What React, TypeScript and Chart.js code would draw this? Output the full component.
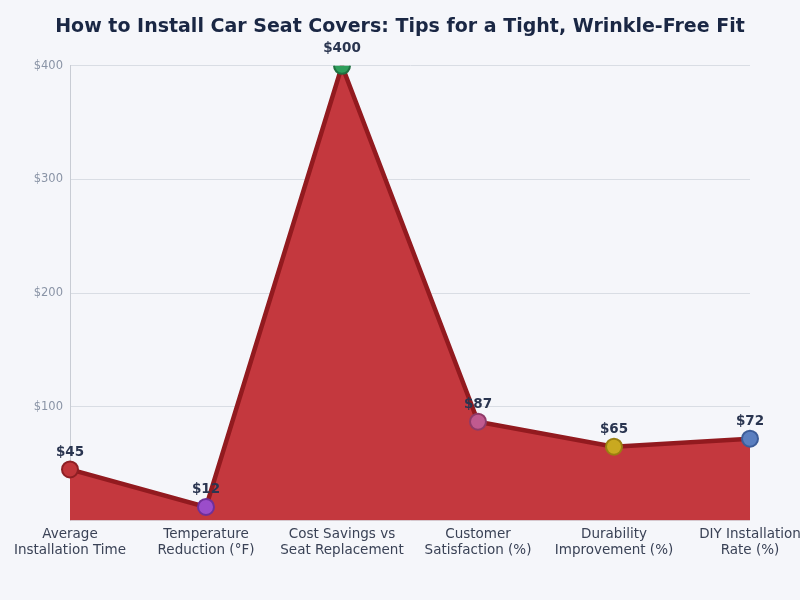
import React, { useEffect, useRef } from "react";
import { Chart, registerables } from "chart.js";

Chart.register(...registerables);

const TITLE = "How to Install Car Seat Covers: Tips for a Tight, Wrinkle-Free Fit";
const categories: string[][] = [
  ["Average", "Installation Time"],
  ["Temperature", "Reduction (°F)"],
  ["Cost Savings vs", "Seat Replacement"],
  ["Customer", "Satisfaction (%)"],
  ["Durability", "Improvement (%)"],
  ["DIY Installation", "Rate (%)"],
];
const values: number[] = [45, 12, 400, 87, 65, 72];
const pointFills: string[] = ["#c0353a", "#9b4dca", "#2e9e5b", "#c05a8f", "#c9a920", "#5b7fc0"];
const pointBorders: string[] = ["#8e1f24", "#6f2f99", "#1f7040", "#8f3a68", "#9a8010", "#3d5d99"];
const yTicks: number[] = [100, 200, 300, 400];

const BG = "#f5f6fa";

const valueLabels = {
  id: "valueLabels",
  afterDatasetsDraw(chart: any) {
    const ctx = chart.ctx;
    const meta = chart.getDatasetMeta(0);
    ctx.save();
    ctx.font = "bold 13.5px 'DejaVu Sans'";
    ctx.fillStyle = "#2a3550";
    ctx.textAlign = "center";
    ctx.textBaseline = "middle";
    meta.data.forEach((pt: any, i: number) => {
      ctx.fillText("$" + values[i], pt.x, pt.y - 17);
    });
    ctx.restore();
  },
};

export default function App() {
  const ref = useRef<HTMLCanvasElement>(null);
  useEffect(() => {
    if (!ref.current) return;
    const chart = new Chart(ref.current, {
      type: "line",
      data: {
        labels: categories,
        datasets: [
          {
            data: values,
            borderColor: "#921a1f",
            borderWidth: 4.5,
            backgroundColor: "#c4383e",
            fill: "origin",
            tension: 0,
            pointRadius: 8,
            pointHoverRadius: 8,
            pointBorderWidth: 2,
            pointBackgroundColor: pointFills,
            pointBorderColor: pointBorders,
          },
        ],
      },
      options: {
        animation: false,
        responsive: false,
        maintainAspectRatio: false,
        layout: { padding: { left: 0, right: 0, top: 0, bottom: 35 } },
        plugins: {
          legend: { display: false },
          tooltip: { enabled: false },
          title: {
            display: true,
            text: TITLE,
            color: "#1a2744",
            font: { family: "'DejaVu Sans'", size: 19, weight: "bold" },
            padding: { top: 16, bottom: 27 },
          },
        },
        scales: {
          x: {
            offset: false,
            grid: { display: false, drawTicks: false },
            border: { display: false },
            ticks: {
              color: "#3a4256",
              font: { family: "'DejaVu Sans'", size: 13.5 },
              maxRotation: 0,
              autoSkip: false,
              padding: 6,
            },
            afterFit(scale: any) {
              scale.paddingLeft = 0;
              scale.paddingRight = 50;
            },
          },
          y: {
            min: 0,
            max: 400,
            afterFit(scale: any) {
              scale.width = 70;
            },
            afterBuildTicks(scale: any) {
              scale.ticks = [0, ...yTicks].map((v) => ({ value: v }));
            },
            grid: { color: "#d9dde4", lineWidth: 1, drawTicks: false },
            border: { display: true, color: "#c8ccd4" },
            ticks: {
              color: "#8a94a6",
              font: { family: "'DejaVu Sans'", size: 11.5 },
              padding: 7,
              callback: (v: any) => (v === 0 ? "" : "$" + v),
            },
          },
        },
      },
      plugins: [valueLabels],
    });
    return () => chart.destroy();
  }, []);
  return (
    <div style={{ position: "fixed", left: 0, top: 0, width: 800, height: 600, background: BG }}>
      <canvas ref={ref} width={800} height={600} style={{ display: "block" }} />
    </div>
  );
}
